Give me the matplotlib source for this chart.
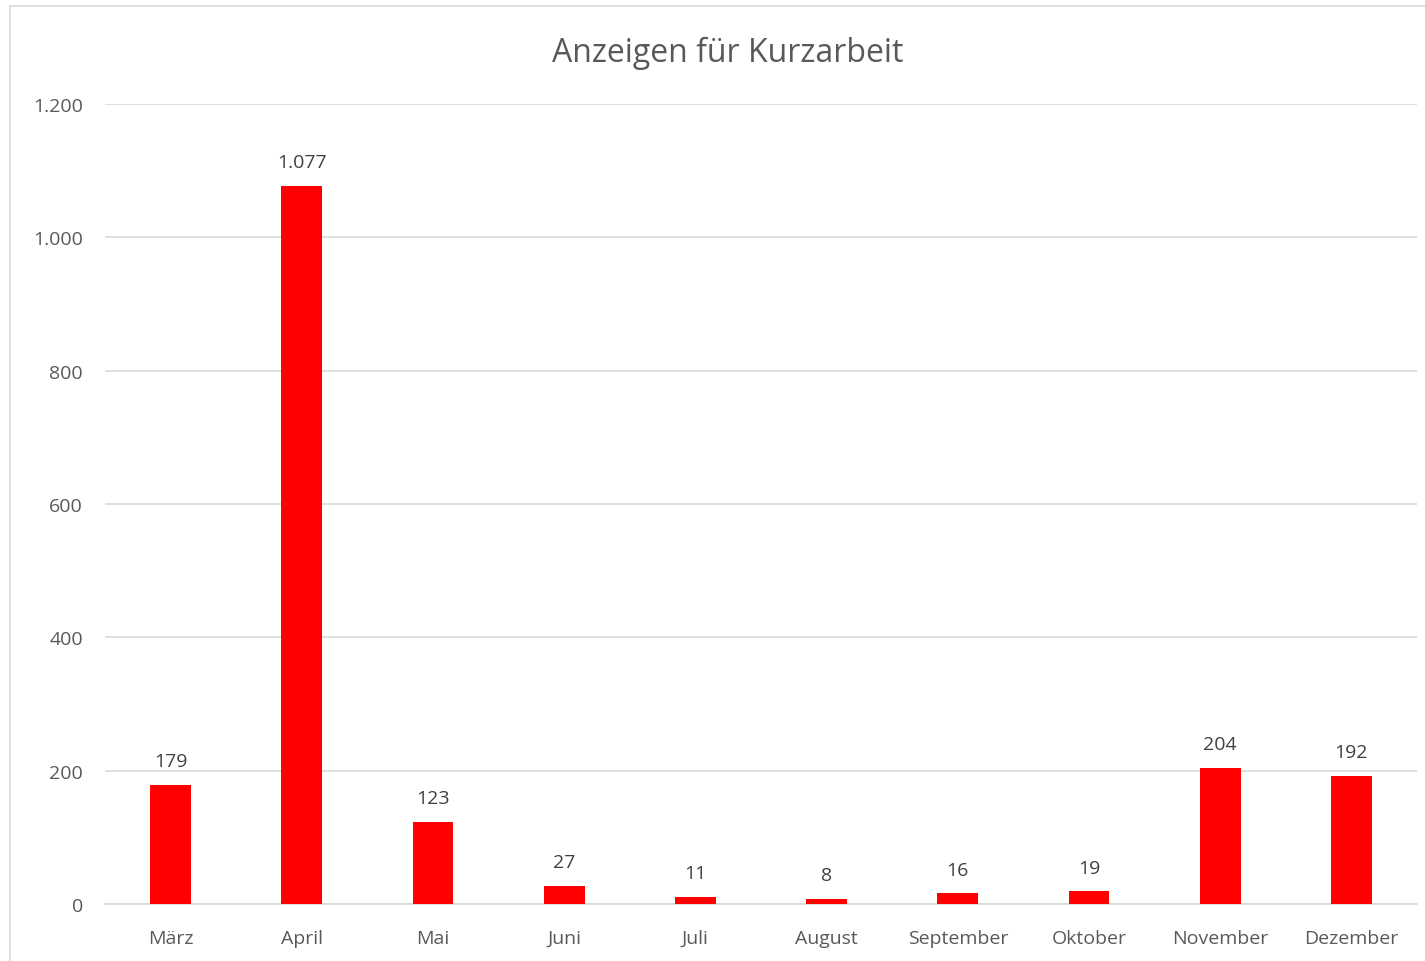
import matplotlib.pyplot as plt
from matplotlib.patches import Rectangle

months = ['März', 'April', 'Mai', 'Juni', 'Juli', 'August', 'September', 'Oktober', 'November', 'Dezember']
values = [179, 1077, 123, 27, 11, 8, 16, 19, 204, 192]
yticks = [0, 200, 400, 600, 800, 1000, 1200]

plt.rcParams['font.family'] = ['Open Sans', 'DejaVu Sans']
text_color = '#595959'

fig = plt.figure(figsize=(14.25, 9.62), dpi=100)
# chart border (cropped at right/bottom like the reference)
fig.patches.append(Rectangle((10 / 1425, -0.1), 1.2, (962 - 7) / 962 + 0.1,
                             transform=fig.transFigure, fill=False,
                             edgecolor='#D9D9D9', linewidth=1.2))

ax = fig.add_axes([105 / 1425, 57 / 962, 1312 / 1425, 800 / 962])
x = range(len(months))
bars = ax.bar(x, values, width=0.31, color='#FF0000', zorder=3)

for xi, v in zip(x, values):
    label = f'{v:,}'.replace(',', '.')
    ax.text(xi, v + 22, label, ha='center', va='bottom', fontsize=14, color='#404040')

ax.set_xlim(-0.5, len(months) - 0.5)
ax.set_ylim(0, 1200)
ax.set_yticks(yticks)
ax.set_yticklabels([f'{t:,}'.replace(',', '.') for t in yticks])
ax.set_xticks(list(x))
ax.set_xticklabels(months)
ax.tick_params(axis='both', length=0, labelsize=14, labelcolor=text_color)
ax.tick_params(axis='y', pad=16)
ax.tick_params(axis='x', pad=18)
ax.grid(axis='y', color='#D9D9D9', linewidth=1.2, zorder=0)
for s in ['top', 'right', 'left']:
    ax.spines[s].set_visible(False)
ax.spines['bottom'].set_color('#D9D9D9')
ax.spines['bottom'].set_linewidth(1.2)

fig.text(728 / 1425, 1 - 53 / 962, 'Anzeigen für Kurzarbeit', ha='center', va='center',
         fontsize=23, color=text_color)

fig.savefig('out.png', dpi=100)
